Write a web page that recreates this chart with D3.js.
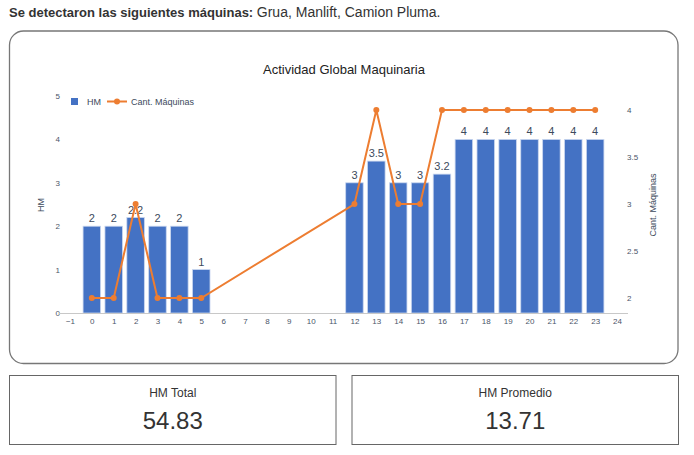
<!DOCTYPE html>
<html><head><meta charset="utf-8">
<script src="https://cdn.jsdelivr.net/npm/d3@7"></script>
<style>body{margin:0;background:#fff;}svg{display:block;font-family:"Liberation Sans",Arial,sans-serif;}</style>
</head><body><svg id="c" width="694" height="455"></svg>
<script>
const hours = [0,1,2,3,4,5,12,13,14,15,16,17,18,19,20,21,22,23];
const hmValues = [2,2,2.2,2,2,1,3,3.5,3,3,3.2,4,4,4,4,4,4,4];
const hmLabels = ["2","2","2.2","2","2","1","3","3.5","3","3","3.2","4","4","4","4","4","4","4"];
const cantMaquinas = [2,2,3,2,2,2,3,4,3,3,4,4,4,4,4,4,4,4];
const xTicks = d3.range(-1,25);
const yLeftTicks = [0,1,2,3,4,5];
const yRightTicks = [2,2.5,3,3.5,4];
const machines = "Grua, Manlift, Camion Pluma.";
const cards = [{label:"HM Total", value:"54.83"},{label:"HM Promedio", value:"13.71"}];

const svg = d3.select("#c");
const blue = "#4472C4", orange = "#ED7D31", tickCol = "#4a5568";

// header
const h = svg.append("text").attr("x",9).attr("y",17).attr("fill","#333");
h.append("tspan").attr("font-weight","bold").attr("font-size",13).text("Se detectaron las siguientes máquinas: ");
h.append("tspan").attr("font-size",14).text(machines);

// frame
svg.append("rect").attr("x",9.5).attr("y",31).attr("width",668.5).attr("height",332.5).attr("rx",14)
  .attr("fill","none").attr("stroke","#777").attr("stroke-width",1.3);

svg.append("text").attr("x",344).attr("y",74).attr("text-anchor","middle").attr("font-size",13).attr("fill","#222").text("Actividad Global Maquinaria");

const x = d3.scaleLinear().domain([-1.5,24.5]).range([59,628]);
const yL = d3.scaleLinear().domain([0,5]).range([313,96]);
const yR = d3.scaleLinear().domain([2,4]).range([298,110]);

// left ticks
const gl = svg.append("g").attr("transform","translate(60,0)")
  .call(d3.axisLeft(yL).tickValues(yLeftTicks).tickSize(0).tickPadding(0).tickFormat(d3.format("d")));
gl.select(".domain").remove();
gl.selectAll("text").attr("font-size",8).attr("fill",tickCol).attr("font-family","Liberation Sans, Arial").attr("dy","0.32em");

const gr = svg.append("g").attr("transform","translate(627,0)")
  .call(d3.axisRight(yR).tickValues(yRightTicks).tickSize(0).tickPadding(0).tickFormat(d=>String(d)));
gr.select(".domain").remove();
gr.selectAll("text").attr("font-size",8).attr("fill",tickCol).attr("font-family","Liberation Sans, Arial");

// bars
const bw = (x(1)-x(0))*0.8;
svg.append("g").selectAll("rect").data(hours).join("rect")
  .attr("x",(d)=>x(d)-bw/2).attr("width",bw)
  .attr("y",(d,i)=>yL(hmValues[i])).attr("height",(d,i)=>yL(0)-yL(hmValues[i]))
  .attr("fill",blue).attr("stroke","#c9d6ef").attr("stroke-width",0.8);

// x axis
const gx = svg.append("g").attr("transform","translate(0,313)")
  .call(d3.axisBottom(x).tickValues(xTicks).tickSize(0).tickPadding(5).tickFormat(d=>d<0?"\u2212"+(-d):d));
gx.select(".domain").attr("stroke","#c8c8c8").attr("d","M59,0.5H628");
gx.selectAll("text").attr("font-size",8).attr("fill",tickCol).attr("font-family","Liberation Sans, Arial");

// bar labels
svg.append("g").selectAll("text").data(hours).join("text")
  .attr("x",d=>x(d)).attr("y",(d,i)=>yL(hmValues[i])-4).attr("text-anchor","middle")
  .attr("font-size",11).attr("fill","#3d4a5c").text((d,i)=>hmLabels[i]);

// line
const pts = hours.map((d,i)=>[d,cantMaquinas[i]]);
svg.append("path").datum(pts).attr("fill","none").attr("stroke",orange).attr("stroke-width",2)
  .attr("d",d3.line().x(d=>x(d[0])).y(d=>yR(d[1])));
svg.append("g").selectAll("circle").data(pts).join("circle")
  .attr("cx",d=>x(d[0])).attr("cy",d=>yR(d[1])).attr("r",3).attr("fill",orange);

// axis titles
svg.append("text").attr("transform","translate(44,205) rotate(-90)").attr("text-anchor","middle")
  .attr("font-size",9).attr("fill","#3d4a5c").text("HM");
svg.append("text").attr("transform","translate(656,205) rotate(-90)").attr("text-anchor","middle")
  .attr("font-size",9).attr("fill","#3d4a5c").text("Cant. Máquinas");

// legend
const lg = svg.append("g").attr("font-size",9).attr("fill","#3d4a5c");
lg.append("rect").attr("x",71).attr("y",98).attr("width",7).attr("height",7).attr("fill",blue);
lg.append("text").attr("x",87).attr("y",105).text("HM");
lg.append("line").attr("x1",107).attr("x2",127).attr("y1",101.5).attr("y2",101.5).attr("stroke",orange).attr("stroke-width",2);
lg.append("circle").attr("cx",117).attr("cy",101.5).attr("r",3).attr("fill",orange);
lg.append("text").attr("x",131).attr("y",105).text("Cant. Máquinas");

// cards
const cw = 326.5, cx0 = [9.5, 352];
cards.forEach((c,i)=>{
  const g = svg.append("g").attr("transform",`translate(${cx0[i]},375.5)`);
  g.append("rect").attr("width",cw).attr("height",69).attr("fill","#fff").attr("stroke","#666").attr("stroke-width",1);
  g.append("text").attr("x",cw/2).attr("y",21).attr("text-anchor","middle").attr("font-size",12).attr("fill","#333").text(c.label);
  g.append("text").attr("x",cw/2).attr("y",53).attr("text-anchor","middle").attr("font-size",24).attr("fill","#333").text(c.value);
});
</script></body></html>
